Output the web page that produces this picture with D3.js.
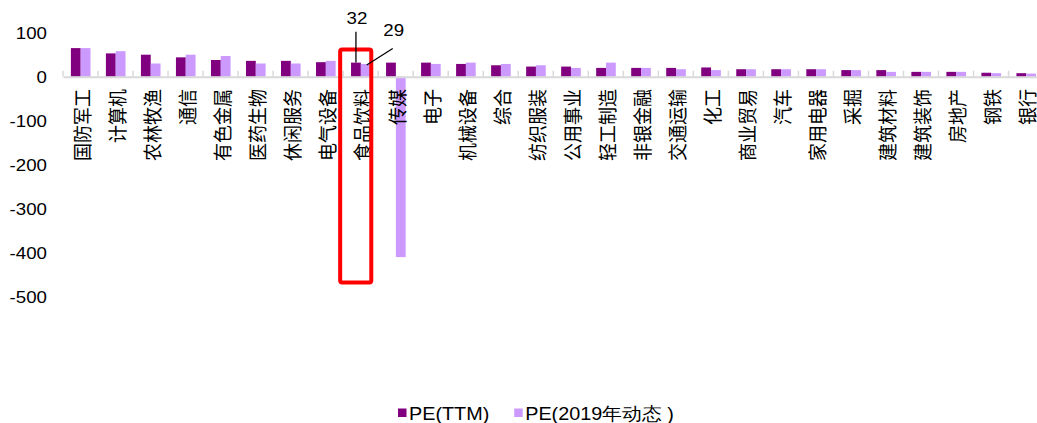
<!DOCTYPE html>
<html>
<head>
<meta charset="utf-8">
<script src="https://cdn.jsdelivr.net/npm/d3@7"></script>
<style>
  html, body { margin: 0; padding: 0; background: #fff; }
  svg { display: block; }
</style>
</head>
<body>
<svg id="chart" width="1037" height="423"></svg>
<script>
// Industry PE comparison: trailing PE vs 2019 forward PE
const categories = ['国防军工','计算机','农林牧渔','通信','有色金属','医药生物','休闲服务','电气设备',
  '食品饮料','传媒','电子','机械设备','综合','纺织服装','公用事业','轻工制造','非银金融','交通运输',
  '化工','商业贸易','汽车','家用电器','采掘','建筑材料','建筑装饰','房地产','钢铁','银行'];
const peTTM = [65, 53, 50, 44, 38, 36, 36, 33, 32, 32, 32, 29, 26, 23, 23, 20, 20, 20,
  21, 17, 17, 17, 15, 15, 11, 11, 9, 8];
const pe2019 = [65, 58, 30, 50, 47, 30, 30, 36, 29, -410, 29, 32, 29, 26, 20, 32, 20, 17,
  15, 17, 17, 17, 15, 11, 11, 11, 8, 7];
const seriesNames = ['PE(TTM)', 'PE(2019年动态 )'];
const seriesColors = ['#800080', '#cc99ff'];
const yTicks = [100, 0, -100, -200, -300, -400, -500];
const highlight = { category: '食品饮料', range: [-468, 62] };

const svg = d3.select('#chart');
const latin = 'Liberation Sans, Arial, sans-serif';
const cjk = '"Noto Sans CJK SC", sans-serif';

const x = d3.scaleBand().domain(categories).range([63, 63 + 35.02 * categories.length]);
const xs = d3.scaleBand().domain(d3.range(seriesNames.length))
  .range([x.bandwidth() * 0.225, x.bandwidth() * 0.785]);
const y = d3.scaleLinear().domain([-500, 100]).range([296.7, 32.7]);

// y-axis labels (no axis line), plain hyphen for negatives
const yAxis = d3.axisLeft(y).tickValues(yTicks).tickSize(0).tickPadding(0).tickFormat(d => String(d));
const gy = svg.append('g').attr('transform', 'translate(47,0)').call(yAxis);
gy.select('.domain').remove();
gy.selectAll('text')
  .attr('font-family', latin).attr('font-size', 17).attr('fill', '#000')
  .attr('x', null).attr('dy', null)
  .attr('dominant-baseline', 'central')
  .attr('transform', 'scale(1.1,1)');

// bars
const rows = categories.map((c, i) => ({ c, v: [peTTM[i], pe2019[i]] }));
svg.append('g').selectAll('g').data(rows).join('g')
  .attr('transform', d => `translate(${x(d.c)},0)`)
  .selectAll('rect').data(d => d.v.map((v, k) => ({ v, k }))).join('rect')
  .attr('x', d => xs(d.k))
  .attr('width', xs.bandwidth())
  .attr('y', d => y(Math.max(0, d.v)))
  .attr('height', d => Math.abs(y(d.v) - y(0)))
  .attr('fill', d => seriesColors[d.k]);

// category axis at zero
const xAxis = d3.axisBottom(x).tickSize(0).tickFormat('');
const gx = svg.append('g').attr('transform', `translate(0,${y(0)})`).call(xAxis);
gx.select('.domain').attr('stroke', '#d9d9d9').attr('stroke-width', 2);
gx.selectAll('.tick').remove();
gx.selectAll('line.sep').data(categories).join('line')
  .attr('class', 'sep')
  .attr('x1', d => x(d)).attr('x2', d => x(d))
  .attr('y1', 0).attr('y2', -6)
  .attr('stroke', '#d9d9d9').attr('stroke-width', 1.5);

// rotated category labels, reading bottom to top, top-aligned below the axis
svg.append('g').selectAll('text').data(categories).join('text')
  .attr('transform', d => `translate(${x(d) + x.bandwidth() / 2 + 0.5},89) scale(1.1,1) rotate(-90)`)
  .attr('text-anchor', 'end')
  .attr('dominant-baseline', 'central')
  .attr('font-family', cjk).attr('font-size', 18).attr('fill', '#000')
  .text(d => d);

// highlight box around one industry
const hx = x(highlight.category);
svg.append('rect')
  .attr('x', hx - 3).attr('y', y(highlight.range[1]))
  .attr('width', x.bandwidth() - 3.9)
  .attr('height', y(highlight.range[0]) - y(highlight.range[1]))
  .attr('rx', 2)
  .attr('fill', 'none').attr('stroke', '#ff0000').attr('stroke-width', 4);

// value callouts for the highlighted industry
const hi = categories.indexOf(highlight.category);
const darkCx = hx + xs(0) + xs.bandwidth() / 2;
const lightRight = hx + xs(1) + xs.bandwidth() * 0.6;
const callouts = svg.append('g').attr('stroke', '#000').attr('stroke-width', 1.3);
callouts.append('line')
  .attr('x1', darkCx).attr('x2', darkCx)
  .attr('y1', 31.7).attr('y2', y(peTTM[hi]));
callouts.append('line')
  .attr('x1', lightRight + 26).attr('y1', y(pe2019[hi]) - 15.5)
  .attr('x2', lightRight).attr('y2', y(pe2019[hi]) + 1);
const numText = (tx, ty, s) => svg.append('text')
  .attr('transform', `translate(${tx},${ty}) scale(1.1,1)`)
  .attr('text-anchor', 'middle').attr('dominant-baseline', 'central')
  .attr('font-family', latin).attr('font-size', 17).attr('fill', '#000')
  .text(s);
numText(darkCx + 1, 18, peTTM[hi]);
numText(lightRight + 27, 30, pe2019[hi]);

// legend
const legend = svg.append('g').attr('transform', 'translate(398,0)');
let lx = 0;
seriesNames.forEach((name, k) => {
  legend.append('rect').attr('x', lx).attr('y', 408.5).attr('width', 8.5).attr('height', 8.5)
    .attr('fill', seriesColors[k]);
  const t = legend.append('text')
    .attr('transform', `translate(${lx + 11},420) scale(1.1,1)`)
    .attr('font-family', latin).attr('font-size', 18).attr('fill', '#000')
    .text(name);
  lx += 11 + t.node().getComputedTextLength() * 1.1 + 25;
});
</script>
</body>
</html>
